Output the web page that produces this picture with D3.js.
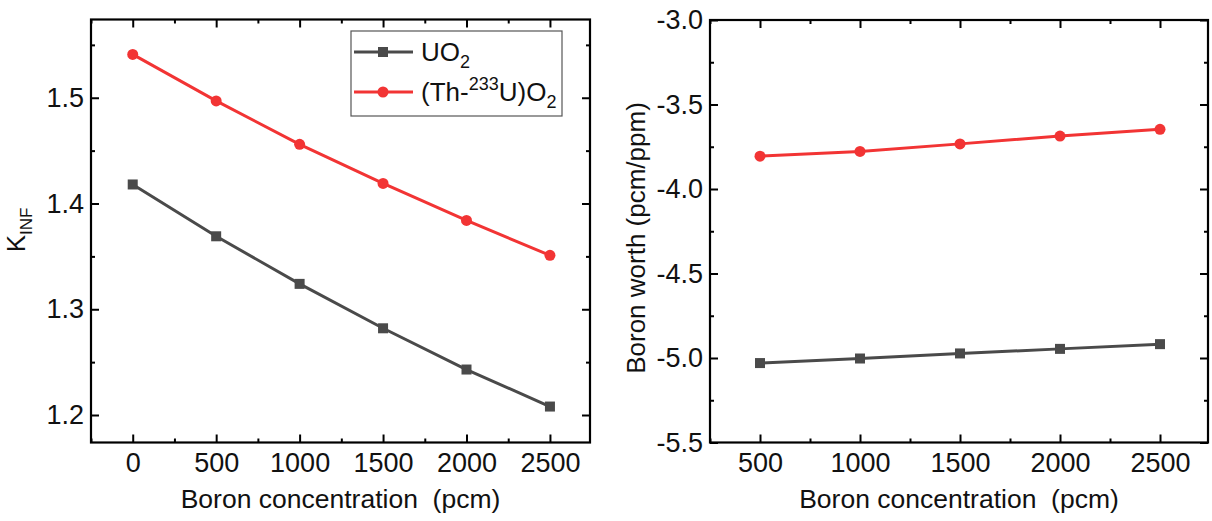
<!DOCTYPE html>
<html lang="en">
  <head>
    <meta charset="UTF-8" />
    <script src="https://cdn.jsdelivr.net/npm/d3@7"></script>
    <style>
      * {
        margin: 0;
        padding: 0;
      }
      body {
        background: #fff;
      }
      svg {
        display: block;
        font-family: 'Liberation Sans', Arial, sans-serif;
      }
    </style>
    <title>Boron concentration</title>
  </head>
  <body>
    <div id="container"></div>
  </body>
  <script>
    // left panel: k-inf vs boron
    const boronLeft = [0, 500, 1000, 1500, 2000, 2500];
    const kinfUO2 = [1.418, 1.369, 1.324, 1.282, 1.243, 1.208];
    const kinfThU = [1.541, 1.497, 1.456, 1.419, 1.384, 1.351];
    const xTicksLeft = [0, 500, 1000, 1500, 2000, 2500];
    const yTicksLeft = [1.2, 1.3, 1.4, 1.5];

    // right panel: boron worth
    const boronRight = [500, 1000, 1500, 2000, 2500];
    const worthUO2 = [-5.03, -5.003, -4.973, -4.946, -4.918];
    const worthThU = [-3.806, -3.778, -3.733, -3.687, -3.647];
    const xTicksRight = [500, 1000, 1500, 2000, 2500];
    const yTicksRight = [-5.5, -5.0, -4.5, -4.0, -3.5, -3.0];

    const grayColor = '#4a4a4a';
    const redColor = '#f23434';

    const width = 1212;
    const height = 521;

    const svg = d3
      .select('#container')
      .append('svg')
      .attr('width', width)
      .attr('height', height);

    // midpoints between major ticks, plus one step outside each end
    function minorTicks(ticks) {
      const step = ticks[1] - ticks[0];
      const out = [ticks[0] - step / 2];
      ticks.forEach((t) => out.push(t + step / 2));
      return out;
    }

    function drawPanel(opt) {
      const x = d3.scaleLinear().domain(opt.xDomain).range(opt.xRange);
      const y = d3.scaleLinear().domain(opt.yDomain).range(opt.yRange);
      const g = svg.append('g');
      const [x0, x1] = opt.xRange;
      const [y1, y0] = opt.yRange;

      const xMinor = minorTicks(opt.xTicks).filter(
        (d) => d >= opt.xDomain[0] && d <= opt.xDomain[1]
      );
      const yMinor = minorTicks(opt.yTicks).filter(
        (d) => d >= opt.yDomain[0] && d <= opt.yDomain[1]
      );

      const axes = [
        [d3.axisBottom(x), y1, 'x', true],
        [d3.axisTop(x), y0, 'x', false],
        [d3.axisLeft(y), x0, 'y', true],
        [d3.axisRight(y), x1, 'y', false],
      ];

      axes.forEach(([axis, pos, dir, labels]) => {
        const tr = dir === 'x' ? `translate(0,${pos})` : `translate(${pos},0)`;
        // major
        axis
          .tickValues(dir === 'x' ? opt.xTicks : opt.yTicks)
          .tickSizeInner(-8)
          .tickSizeOuter(0)
          .tickPadding(dir === 'x' ? 10 : 7)
          .tickFormat(labels ? (dir === 'x' ? (d) => d : opt.yFormat) : '');
        const ga = g.append('g').attr('transform', tr).call(axis);
        ga.select('.domain').remove();
        ga.selectAll('line').attr('stroke', '#000').attr('stroke-width', 2);
        ga.selectAll('text')
          .attr('font-size', 27)
          .attr('fill', '#111')
          .attr('font-family', "'Liberation Sans', Arial, sans-serif");
        // minor
        const minor = axis
          .tickValues(dir === 'x' ? xMinor : yMinor)
          .tickSizeInner(-4)
          .tickFormat('');
        const gm = g.append('g').attr('transform', tr).call(minor);
        gm.select('.domain').remove();
        gm.selectAll('line').attr('stroke', '#000').attr('stroke-width', 2);
      });

      // frame
      g.append('rect')
        .attr('x', x0)
        .attr('y', y0)
        .attr('width', x1 - x0)
        .attr('height', y1 - y0)
        .attr('fill', 'none')
        .attr('stroke', '#000')
        .attr('stroke-width', 2.2);

      const line = d3
        .line()
        .x((d) => x(d[0]))
        .y((d) => y(d[1]));

      opt.series.forEach((s) => {
        const pts = opt.xs.map((v, i) => [v, s.values[i]]);
        g.append('path')
          .datum(pts)
          .attr('d', line)
          .attr('fill', 'none')
          .attr('stroke', s.color)
          .attr('stroke-width', 3);
        if (s.shape === 'square') {
          g.append('g')
            .selectAll('rect')
            .data(pts)
            .join('rect')
            .attr('x', (d) => x(d[0]) - 5)
            .attr('y', (d) => y(d[1]) - 5)
            .attr('width', 10)
            .attr('height', 10)
            .attr('fill', s.color);
        } else {
          g.append('g')
            .selectAll('circle')
            .data(pts)
            .join('circle')
            .attr('cx', (d) => x(d[0]))
            .attr('cy', (d) => y(d[1]))
            .attr('r', 5.5)
            .attr('fill', s.color);
        }
      });

      // x title
      g.append('text')
        .attr('x', (x0 + x1) / 2)
        .attr('y', 508)
        .attr('text-anchor', 'middle')
        .attr('font-size', 26.5)
        .attr('fill', '#111')
        .text('Boron concentration\u00a0\u00a0(pcm)');

      return g;
    }

    drawPanel({
      xDomain: [-250, 2740],
      xRange: [91, 590],
      yDomain: [1.174, 1.574],
      yRange: [442.5, 19.5],
      xTicks: xTicksLeft,
      yTicks: yTicksLeft,
      yFormat: (d) => d.toFixed(1),
      xs: boronLeft,
      series: [
        { values: kinfUO2, color: grayColor, shape: 'square' },
        { values: kinfThU, color: redColor, shape: 'circle' },
      ],
    });

    drawPanel({
      xDomain: [250, 2740],
      xRange: [710, 1208],
      yDomain: [-5.5, -3.0],
      yRange: [442.5, 20],
      xTicks: xTicksRight,
      yTicks: yTicksRight,
      yFormat: (d) => d.toFixed(1),
      xs: boronRight,
      series: [
        { values: worthUO2, color: grayColor, shape: 'square' },
        { values: worthThU, color: redColor, shape: 'circle' },
      ],
    });

    // y titles
    const kTitle = svg
      .append('text')
      .attr('transform', 'translate(25,230) rotate(-90)')
      .attr('text-anchor', 'middle')
      .attr('font-size', 26)
      .attr('fill', '#111');
    kTitle.append('tspan').text('K');
    kTitle.append('tspan').attr('font-size', 17).attr('dy', 7).text('INF');

    svg
      .append('text')
      .attr('transform', 'translate(645,238) rotate(-90)')
      .attr('text-anchor', 'middle')
      .attr('font-size', 26)
      .attr('fill', '#111')
      .text('Boron worth (pcm/ppm)');

    // legend
    const legend = svg.append('g').attr('transform', 'translate(351,31)');
    legend
      .append('rect')
      .attr('width', 211)
      .attr('height', 85)
      .attr('fill', '#fff')
      .attr('stroke', '#555')
      .attr('stroke-width', 1.2);

    const legendItems = [
      { color: grayColor, shape: 'square', cy: 21 },
      { color: redColor, shape: 'circle', cy: 61 },
    ];
    legendItems.forEach((it) => {
      legend
        .append('line')
        .attr('x1', 3)
        .attr('x2', 62)
        .attr('y1', it.cy)
        .attr('y2', it.cy)
        .attr('stroke', it.color)
        .attr('stroke-width', 3);
      if (it.shape === 'square') {
        legend
          .append('rect')
          .attr('x', 32 - 5)
          .attr('y', it.cy - 5)
          .attr('width', 10)
          .attr('height', 10)
          .attr('fill', it.color);
      } else {
        legend
          .append('circle')
          .attr('cx', 32)
          .attr('cy', it.cy)
          .attr('r', 5.5)
          .attr('fill', it.color);
      }
    });

    const l1 = legend
      .append('text')
      .attr('x', 70)
      .attr('y', 30)
      .attr('font-size', 26)
      .attr('fill', '#111');
    l1.append('tspan').text('UO');
    l1.append('tspan').attr('font-size', 18).attr('dy', 7).text('2');

    const l2 = legend
      .append('text')
      .attr('x', 70)
      .attr('y', 70)
      .attr('font-size', 26)
      .attr('fill', '#111');
    l2.append('tspan').text('(Th-');
    l2.append('tspan').attr('font-size', 18).attr('dy', -11).text('233');
    l2.append('tspan').attr('dy', 11).text('U)O');
    l2.append('tspan').attr('font-size', 18).attr('dy', 7).text('2');
  </script>
</html>
